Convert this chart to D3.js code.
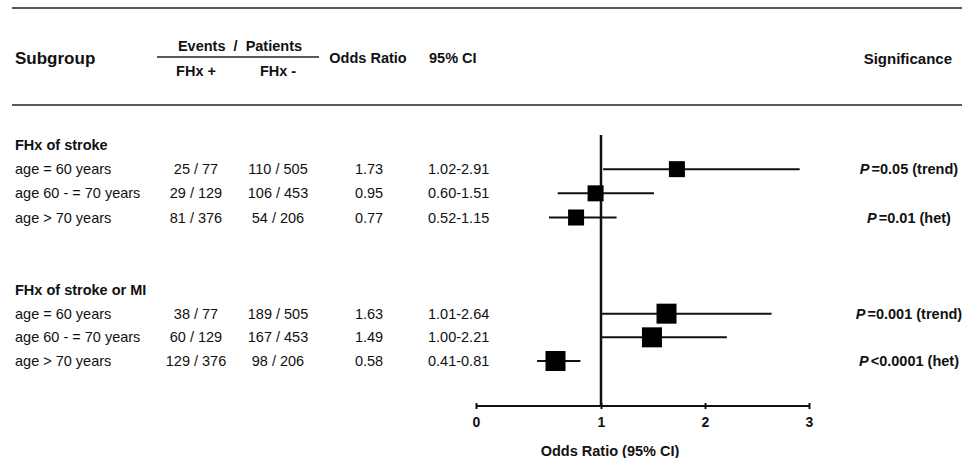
<!DOCTYPE html>
<html>
<head>
<meta charset="utf-8">
<script src="https://cdn.jsdelivr.net/npm/d3@7"></script>
<style>
  html, body { margin: 0; padding: 0; background: #fff; }
  svg { display: block; font-family: "Liberation Sans", Arial, Helvetica, sans-serif; }
  text { fill: #111; }
</style>
</head>
<body>
<svg id="chart" width="962" height="458"></svg>
<script>
// ---- data ----
const groups = ["FHx of stroke", "FHx of stroke or MI"];
const subgroups = ["age = 60 years", "age 60 - = 70 years", "age > 70 years",
                   "age = 60 years", "age 60 - = 70 years", "age > 70 years"];
const rowGroup = [0, 0, 0, 1, 1, 1];
const eventsPos = ["25 / 77", "29 / 129", "81 / 376", "38 / 77", "60 / 129", "129 / 376"];
const eventsNeg = ["110 / 505", "106 / 453", "54 / 206", "189 / 505", "167 / 453", "98 / 206"];
const oddsRatio = [1.73, 0.95, 0.77, 1.63, 1.49, 0.58];
const ciLow  = [1.02, 0.60, 0.52, 1.01, 1.00, 0.41];
const ciHigh = [2.91, 1.51, 1.15, 2.64, 2.21, 0.81];
const sigOp   = ["=0.05 (trend)", null, "=0.01 (het)", "=0.001 (trend)", null, "<0.0001 (het)"];
const axisTicks = [0, 1, 2, 3];
const ciText = ciLow.map((l, i) => l.toFixed(2) + "-" + ciHigh[i].toFixed(2));

// ---- layout ----
const svg = d3.select("#chart");
const W = 962;

// x scale for odds ratio (the original axis is drawn with a compressed left segment)
const x = d3.scaleLinear().domain([0, 0.4, 1, 3]).range([476, 536, 601, 809]);

// vertical slots: header0=0, rows 1..3, header1=6, rows 7..9
const slotOfRow = [1, 2, 3, 7, 8, 9];
const slotOfGroup = [0, 6];
const y = d3.scaleLinear().domain([0, 6, 9]).range([145, 290, 361]);

// rules
svg.append("line").attr("x1", 12).attr("x2", W).attr("y1", 8).attr("y2", 8)
  .attr("stroke", "#222").attr("stroke-width", 1.5);
svg.append("line").attr("x1", 12).attr("x2", W).attr("y1", 105).attr("y2", 105)
  .attr("stroke", "#222").attr("stroke-width", 1.5);

// header
const hdr = svg.append("g").attr("font-weight", "bold");
hdr.append("text").attr("x", 15).attr("y", 64).attr("font-size", 17).text("Subgroup");
hdr.append("text").attr("x", 240).attr("y", 51).attr("font-size", 14.5)
  .attr("text-anchor", "middle").style("white-space", "pre").text("Events  /  Patients");
svg.append("line").attr("x1", 157).attr("x2", 319).attr("y1", 57).attr("y2", 57)
  .attr("stroke", "#222").attr("stroke-width", 1.5);
hdr.append("text").attr("x", 196).attr("y", 76).attr("font-size", 14.5)
  .attr("text-anchor", "middle").text("FHx +");
hdr.append("text").attr("x", 278).attr("y", 76).attr("font-size", 14.5)
  .attr("text-anchor", "middle").text("FHx -");
hdr.append("text").attr("x", 368).attr("y", 63).attr("font-size", 14.5)
  .attr("text-anchor", "middle").text("Odds Ratio");
hdr.append("text").attr("x", 429).attr("y", 63).attr("font-size", 14.5).text("95% CI");
hdr.append("text").attr("x", 952).attr("y", 64).attr("font-size", 15)
  .attr("text-anchor", "end").text("Significance");

// group headers
svg.append("g").selectAll("text").data(groups).join("text")
  .attr("x", 15).attr("y", (d, i) => y(slotOfGroup[i]) + 5)
  .attr("font-size", 14.5).attr("font-weight", "bold").text(d => d);

// table rows
const rows = svg.append("g").attr("font-size", 14.5);
const idx = d3.range(subgroups.length);
rows.selectAll(".sub").data(idx).join("text")
  .attr("x", 15).attr("y", i => y(slotOfRow[i]) + 5).text(i => subgroups[i]);
rows.selectAll(".ep").data(idx).join("text")
  .attr("x", 196).attr("text-anchor", "middle").attr("y", i => y(slotOfRow[i]) + 5).text(i => eventsPos[i]);
rows.selectAll(".en").data(idx).join("text")
  .attr("x", 278).attr("text-anchor", "middle").attr("y", i => y(slotOfRow[i]) + 5).text(i => eventsNeg[i]);
rows.selectAll(".or").data(idx).join("text")
  .attr("x", 369).attr("text-anchor", "middle").attr("y", i => y(slotOfRow[i]) + 5).text(i => oddsRatio[i].toFixed(2));
rows.selectAll(".ci").data(idx).join("text")
  .attr("x", 428).attr("y", i => y(slotOfRow[i]) + 5).text(i => ciText[i]);

// significance
const sig = svg.append("g").attr("font-size", 14.5).attr("font-weight", "bold");
idx.filter(i => sigOp[i]).forEach(i => {
  const t = sig.append("text").attr("x", 909).attr("y", y(slotOfRow[i]) + 5).attr("text-anchor", "middle");
  t.append("tspan").attr("font-style", "italic").text("P");
  t.append("tspan").attr("dx", 2).text(sigOp[i]);
});

// axis
const axisY = 406;
const ax = svg.append("g").attr("transform", `translate(0,${axisY})`)
  .call(d3.axisBottom(x).tickValues(axisTicks).tickFormat(d3.format("d")).tickSize(3).tickPadding(8));
ax.select(".domain").attr("stroke", "#111").attr("stroke-width", 2).attr("d", `M${x(0)},0H${x(3)}`);
ax.selectAll(".tick line").attr("stroke", "#111").attr("stroke-width", 2).attr("y1", -3);
ax.selectAll(".tick text").attr("font-size", 14).attr("font-weight", "bold")
  .attr("font-family", "Liberation Sans, Arial, sans-serif").attr("fill", "#111");
svg.append("text").attr("x", 610).attr("y", 456).attr("text-anchor", "middle")
  .attr("font-size", 14.5).attr("font-weight", "bold").text("Odds Ratio (95% CI)");

// reference line at OR = 1
svg.append("line").attr("x1", x(1)).attr("x2", x(1)).attr("y1", 135).attr("y2", axisY)
  .attr("stroke", "#111").attr("stroke-width", 2.5);

// CI lines
const plot = svg.append("g");
plot.selectAll(".cil").data(idx).join("line")
  .attr("x1", i => x(ciLow[i])).attr("x2", i => x(ciHigh[i]))
  .attr("y1", i => y(slotOfRow[i])).attr("y2", i => y(slotOfRow[i]))
  .attr("stroke", "#111").attr("stroke-width", 2);
// markers (size differs by group in the original)
const markerSize = g => g === 0 ? 16 : 20;
plot.selectAll(".mk").data(idx).join("rect")
  .attr("x", i => x(oddsRatio[i]) - markerSize(rowGroup[i]) / 2)
  .attr("y", i => y(slotOfRow[i]) - markerSize(rowGroup[i]) / 2)
  .attr("width", i => markerSize(rowGroup[i]))
  .attr("height", i => markerSize(rowGroup[i]))
  .attr("fill", "#000");
</script>
</body>
</html>
